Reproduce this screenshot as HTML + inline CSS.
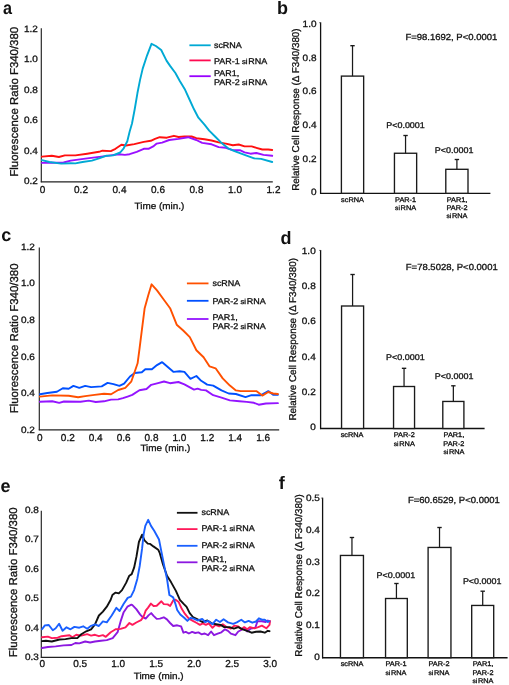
<!DOCTYPE html>
<html><head><meta charset="utf-8"><style>
html,body{margin:0;padding:0;background:#fff;width:509px;height:685px;overflow:hidden}
svg{display:block;font-family:"Liberation Sans", sans-serif;will-change:transform;text-rendering:geometricPrecision}
</style></head><body>
<svg width="509" height="685" viewBox="0 0 509 685">
<rect width="509" height="685" fill="#fff"/>
<text transform="translate(2.90,14.00) scale(0.9,1)" font-size="18" text-anchor="start" font-weight="bold" fill="#111"  >a</text>
<text transform="translate(277.00,14.00) scale(1.0,1)" font-size="18" text-anchor="start" font-weight="bold" fill="#111"  >b</text>
<text transform="translate(1.20,241.30) scale(1.0,1)" font-size="18" text-anchor="start" font-weight="bold" fill="#111"  >c</text>
<text transform="translate(280.40,244.40) scale(1.0,1)" font-size="18" text-anchor="start" font-weight="bold" fill="#111"  >d</text>
<text transform="translate(0.60,492.00) scale(1.0,1)" font-size="18" text-anchor="start" font-weight="bold" fill="#111"  >e</text>
<text transform="translate(278.80,488.60) scale(1.0,1)" font-size="18" text-anchor="start" font-weight="bold" fill="#111"  >f</text>
<line x1="41.30" y1="28.30" x2="41.30" y2="182.30" stroke="#222" stroke-width="1.15"/>
<line x1="40.80" y1="181.80" x2="272.80" y2="181.80" stroke="#222" stroke-width="1.35"/>
<text transform="translate(37.90,31.80) scale(1.08,1)" font-size="9.25" text-anchor="end" font-weight="normal" fill="#111" stroke="#111" stroke-width="0.3" >1.2</text>
<text transform="translate(37.90,62.26) scale(1.08,1)" font-size="9.25" text-anchor="end" font-weight="normal" fill="#111" stroke="#111" stroke-width="0.3" >1.0</text>
<text transform="translate(37.90,92.72) scale(1.08,1)" font-size="9.25" text-anchor="end" font-weight="normal" fill="#111" stroke="#111" stroke-width="0.3" >0.8</text>
<text transform="translate(37.90,123.18) scale(1.08,1)" font-size="9.25" text-anchor="end" font-weight="normal" fill="#111" stroke="#111" stroke-width="0.3" >0.6</text>
<text transform="translate(37.90,153.64) scale(1.08,1)" font-size="9.25" text-anchor="end" font-weight="normal" fill="#111" stroke="#111" stroke-width="0.3" >0.4</text>
<text transform="translate(37.90,184.10) scale(1.08,1)" font-size="9.25" text-anchor="end" font-weight="normal" fill="#111" stroke="#111" stroke-width="0.3" >0.2</text>
<text transform="translate(42.50,192.90) scale(1.0,1)" font-size="10" text-anchor="middle" font-weight="normal" fill="#111" stroke="#111" stroke-width="0.3" >0</text>
<text transform="translate(81.00,192.90) scale(1.0,1)" font-size="10" text-anchor="middle" font-weight="normal" fill="#111" stroke="#111" stroke-width="0.3" >0.2</text>
<text transform="translate(119.50,192.90) scale(1.0,1)" font-size="10" text-anchor="middle" font-weight="normal" fill="#111" stroke="#111" stroke-width="0.3" >0.4</text>
<text transform="translate(158.00,192.90) scale(1.0,1)" font-size="10" text-anchor="middle" font-weight="normal" fill="#111" stroke="#111" stroke-width="0.3" >0.6</text>
<text transform="translate(196.50,192.90) scale(1.0,1)" font-size="10" text-anchor="middle" font-weight="normal" fill="#111" stroke="#111" stroke-width="0.3" >0.8</text>
<text transform="translate(235.00,192.90) scale(1.0,1)" font-size="10" text-anchor="middle" font-weight="normal" fill="#111" stroke="#111" stroke-width="0.3" >1.0</text>
<text transform="translate(273.50,192.90) scale(1.0,1)" font-size="10" text-anchor="middle" font-weight="normal" fill="#111" stroke="#111" stroke-width="0.3" >1.2</text>
<text transform="translate(17.70,101.75) scale(1.0,1) rotate(-90)" font-size="11.43" text-anchor="middle" fill="#111" stroke="#111" stroke-width="0.3">Fluorescence Ratio F340/380</text>
<text transform="translate(159.40,208.80) scale(1.08,1)" font-size="9.2" text-anchor="middle" font-weight="normal" fill="#111" stroke="#111" stroke-width="0.3" >Time (min.)</text>
<polyline points="41.9,156.6 51.8,155.8 58.9,157.0 64.8,155.4 75.4,155.4 87.2,153.7 99.0,151.8 102.5,150.7 110.8,151.1 115.5,148.8 121.4,144.8 126.1,145.5 134.3,144.1 143.8,141.9 150.8,140.8 155.0,138.9 159.7,137.2 166.8,137.7 173.9,135.8 178.6,137.0 184.5,136.5 191.6,136.5 196.3,138.2 204.5,139.3 211.6,140.5 218.7,142.4 225.8,143.6 232.8,145.2 238.7,144.5 244.6,146.4 251.7,146.4 256.4,147.8 262.3,149.5 268.2,149.5 272.2,150.0" fill="none" stroke="#ff1010" stroke-width="1.9" stroke-linejoin="round" stroke-linecap="round"/>
<polyline points="41.9,162.9 51.8,162.7 63.6,162.5 70.7,160.6 87.2,158.4 101.3,156.6 110.8,155.4 119.0,154.2 124.9,154.9 129.6,154.2 136.7,151.8 143.8,148.8 148.5,148.8 153.2,146.4 156.7,143.6 162.1,142.6 169.2,140.0 178.6,138.9 188.0,137.2 196.3,140.0 202.2,142.9 211.6,144.3 218.7,147.1 225.8,147.8 232.8,150.2 239.9,150.2 244.6,152.3 250.5,153.7 256.4,153.0 263.5,154.9 272.2,155.8" fill="none" stroke="#9a10ff" stroke-width="1.9" stroke-linejoin="round" stroke-linecap="round"/>
<polyline points="41.9,160.1 49.4,162.0 61.2,163.6 70.7,163.2 75.4,163.4 82.5,162.0 91.9,160.6 99.0,158.4 106.0,155.8 113.1,155.4 120.2,152.5 123.7,148.3 127.3,141.2 129.6,131.8 132.0,123.5 134.7,109.3 137.4,93.3 140.0,80.1 142.7,68.6 147.1,55.3 151.5,43.8 155.9,46.0 161.2,50.0 166.5,60.6 170.1,65.9 175.4,73.0 179.8,81.0 185.1,89.8 189.5,99.5 194.0,109.3 198.4,117.7 204.5,124.7 209.2,130.6 215.1,136.5 221.0,142.4 228.1,148.3 235.2,151.4 244.6,154.9 254.1,158.4 261.1,158.9 272.2,162.0" fill="none" stroke="#00a9d4" stroke-width="1.9" stroke-linejoin="round" stroke-linecap="round"/>
<line x1="189.40" y1="45.30" x2="210.70" y2="45.30" stroke="#00a9d4" stroke-width="1.8"/>
<text transform="translate(213.90,48.00) scale(1.08,1)" font-size="8.3" text-anchor="start" font-weight="normal" fill="#111" stroke="#111" stroke-width="0.3" >scRNA</text>
<line x1="189.40" y1="60.40" x2="210.70" y2="60.40" stroke="#ff0a50" stroke-width="1.8"/>
<text transform="translate(213.90,63.80) scale(1.08,1)" font-size="8.3" text-anchor="start" font-weight="normal" fill="#111" stroke="#111" stroke-width="0.3" >PAR-1<tspan font-size="7.1" dx="2.1">si</tspan><tspan dx="0.7">RNA</tspan></text>
<line x1="189.40" y1="76.20" x2="210.70" y2="76.20" stroke="#9900ff" stroke-width="1.8"/>
<text transform="translate(213.90,76.20) scale(1.08,1)" font-size="8.3" text-anchor="start" font-weight="normal" fill="#111" stroke="#111" stroke-width="0.3" >PAR1,</text>
<text transform="translate(213.90,85.40) scale(1.08,1)" font-size="8.3" text-anchor="start" font-weight="normal" fill="#111" stroke="#111" stroke-width="0.3" >PAR-2<tspan font-size="7.1" dx="2.1">si</tspan><tspan dx="0.7">RNA</tspan></text>
<line x1="39.30" y1="247.60" x2="39.30" y2="430.30" stroke="#222" stroke-width="1.15"/>
<line x1="38.80" y1="429.80" x2="279.20" y2="429.80" stroke="#222" stroke-width="1.35"/>
<text transform="translate(34.90,249.80) scale(1.08,1)" font-size="9.25" text-anchor="end" font-weight="normal" fill="#111" stroke="#111" stroke-width="0.3" >1.2</text>
<text transform="translate(34.90,286.46) scale(1.08,1)" font-size="9.25" text-anchor="end" font-weight="normal" fill="#111" stroke="#111" stroke-width="0.3" >1.0</text>
<text transform="translate(34.90,323.12) scale(1.08,1)" font-size="9.25" text-anchor="end" font-weight="normal" fill="#111" stroke="#111" stroke-width="0.3" >0.8</text>
<text transform="translate(34.90,359.78) scale(1.08,1)" font-size="9.25" text-anchor="end" font-weight="normal" fill="#111" stroke="#111" stroke-width="0.3" >0.6</text>
<text transform="translate(34.90,396.44) scale(1.08,1)" font-size="9.25" text-anchor="end" font-weight="normal" fill="#111" stroke="#111" stroke-width="0.3" >0.4</text>
<text transform="translate(34.90,433.10) scale(1.08,1)" font-size="9.25" text-anchor="end" font-weight="normal" fill="#111" stroke="#111" stroke-width="0.3" >0.2</text>
<text transform="translate(39.90,440.60) scale(1.0,1)" font-size="10" text-anchor="middle" font-weight="normal" fill="#111" stroke="#111" stroke-width="0.3" >0</text>
<text transform="translate(67.80,440.60) scale(1.0,1)" font-size="10" text-anchor="middle" font-weight="normal" fill="#111" stroke="#111" stroke-width="0.3" >0.2</text>
<text transform="translate(95.70,440.60) scale(1.0,1)" font-size="10" text-anchor="middle" font-weight="normal" fill="#111" stroke="#111" stroke-width="0.3" >0.4</text>
<text transform="translate(123.60,440.60) scale(1.0,1)" font-size="10" text-anchor="middle" font-weight="normal" fill="#111" stroke="#111" stroke-width="0.3" >0.6</text>
<text transform="translate(151.50,440.60) scale(1.0,1)" font-size="10" text-anchor="middle" font-weight="normal" fill="#111" stroke="#111" stroke-width="0.3" >0.8</text>
<text transform="translate(179.40,440.60) scale(1.0,1)" font-size="10" text-anchor="middle" font-weight="normal" fill="#111" stroke="#111" stroke-width="0.3" >1.0</text>
<text transform="translate(207.30,440.60) scale(1.0,1)" font-size="10" text-anchor="middle" font-weight="normal" fill="#111" stroke="#111" stroke-width="0.3" >1.2</text>
<text transform="translate(235.20,440.60) scale(1.0,1)" font-size="10" text-anchor="middle" font-weight="normal" fill="#111" stroke="#111" stroke-width="0.3" >1.4</text>
<text transform="translate(263.10,440.60) scale(1.0,1)" font-size="10" text-anchor="middle" font-weight="normal" fill="#111" stroke="#111" stroke-width="0.3" >1.6</text>
<text transform="translate(17.70,338.40) scale(1.0,1) rotate(-90)" font-size="11.43" text-anchor="middle" fill="#111" stroke="#111" stroke-width="0.3">Fluorescence Ratio F340/380</text>
<text transform="translate(165.30,450.70) scale(1.08,1)" font-size="9.2" text-anchor="middle" font-weight="normal" fill="#111" stroke="#111" stroke-width="0.3" >Time (min.)</text>
<polyline points="39.9,401.7 52.2,401.3 59.2,402.9 63.9,401.5 80.5,401.7 88.7,400.6 95.8,402.0 104.0,401.3 111.1,399.6 118.2,399.4 122.9,398.2 127.6,396.6 132.3,394.9 139.4,390.2 146.5,389.0 151.2,384.8 158.0,383.1 164.0,381.5 170.0,383.2 178.4,382.0 184.4,384.4 194.0,389.6 197.6,388.7 201.2,389.9 206.0,390.4 213.2,395.2 221.5,397.6 229.9,400.4 239.5,401.2 246.7,401.9 253.9,402.8 258.7,404.7 265.9,403.5 277.9,403.1" fill="none" stroke="#9414ff" stroke-width="1.9" stroke-linejoin="round" stroke-linecap="round"/>
<polyline points="39.9,394.2 47.4,393.0 56.9,391.8 62.8,388.3 68.7,388.8 73.4,385.9 79.3,387.8 85.2,385.9 91.1,387.1 101.7,386.4 107.6,382.9 113.5,384.1 119.4,385.9 124.1,383.6 130.0,376.5 134.7,373.0 141.8,372.3 145.3,369.2 151.9,369.2 157.0,365.1 162.1,362.2 162.8,362.8 173.6,371.9 179.6,371.2 184.4,371.9 190.4,378.8 196.4,376.0 201.2,380.8 207.2,384.6 213.2,385.6 221.5,390.4 228.7,393.5 235.9,394.0 245.5,397.1 251.5,395.2 261.1,395.2 268.3,391.1 273.1,394.7 277.9,394.7" fill="none" stroke="#0050ff" stroke-width="1.9" stroke-linejoin="round" stroke-linecap="round"/>
<polyline points="39.9,396.6 52.2,395.4 68.7,395.8 78.1,397.3 85.2,396.1 94.6,394.9 104.0,393.7 111.1,394.2 118.2,390.0 125.3,387.8 131.2,381.7 134.7,371.8 137.6,363.3 139.5,348.8 141.7,331.3 144.6,308.6 148.2,295.5 151.6,284.3 157.0,290.4 163.5,299.2 170.1,308.2 176.7,324.7 183.2,330.5 189.8,337.1 196.4,350.2 203.6,357.3 209.6,366.4 215.6,368.3 222.7,378.4 229.9,385.6 235.9,390.4 240.7,391.1 256.3,391.1 262.3,395.6 268.3,392.0 273.1,393.5 277.9,394.0" fill="none" stroke="#ff5000" stroke-width="1.9" stroke-linejoin="round" stroke-linecap="round"/>
<line x1="186.90" y1="283.40" x2="208.50" y2="283.40" stroke="#ff5000" stroke-width="1.8"/>
<text transform="translate(212.40,285.70) scale(1.08,1)" font-size="8.3" text-anchor="start" font-weight="normal" fill="#111" stroke="#111" stroke-width="0.3" >scRNA</text>
<line x1="186.90" y1="300.80" x2="208.50" y2="300.80" stroke="#0050ff" stroke-width="1.8"/>
<text transform="translate(212.40,304.40) scale(1.08,1)" font-size="8.3" text-anchor="start" font-weight="normal" fill="#111" stroke="#111" stroke-width="0.3" >PAR-2<tspan font-size="7.1" dx="2.1">si</tspan><tspan dx="0.7">RNA</tspan></text>
<line x1="186.90" y1="319.00" x2="208.50" y2="319.00" stroke="#9414ff" stroke-width="1.8"/>
<text transform="translate(212.40,320.10) scale(1.08,1)" font-size="8.3" text-anchor="start" font-weight="normal" fill="#111" stroke="#111" stroke-width="0.3" >PAR1,</text>
<text transform="translate(212.40,329.00) scale(1.08,1)" font-size="8.3" text-anchor="start" font-weight="normal" fill="#111" stroke="#111" stroke-width="0.3" >PAR-2<tspan font-size="7.1" dx="2.1">si</tspan><tspan dx="0.7">RNA</tspan></text>
<line x1="41.30" y1="510.80" x2="41.30" y2="657.80" stroke="#222" stroke-width="1.15"/>
<line x1="40.80" y1="657.30" x2="270.60" y2="657.30" stroke="#222" stroke-width="1.35"/>
<text transform="translate(38.90,513.05) scale(1.08,1)" font-size="9.25" text-anchor="end" font-weight="normal" fill="#111" stroke="#111" stroke-width="0.3" >0.8</text>
<text transform="translate(38.90,542.49) scale(1.08,1)" font-size="9.25" text-anchor="end" font-weight="normal" fill="#111" stroke="#111" stroke-width="0.3" >0.7</text>
<text transform="translate(38.90,571.93) scale(1.08,1)" font-size="9.25" text-anchor="end" font-weight="normal" fill="#111" stroke="#111" stroke-width="0.3" >0.6</text>
<text transform="translate(38.90,601.37) scale(1.08,1)" font-size="9.25" text-anchor="end" font-weight="normal" fill="#111" stroke="#111" stroke-width="0.3" >0.5</text>
<text transform="translate(38.90,630.81) scale(1.08,1)" font-size="9.25" text-anchor="end" font-weight="normal" fill="#111" stroke="#111" stroke-width="0.3" >0.4</text>
<text transform="translate(38.90,660.25) scale(1.08,1)" font-size="9.25" text-anchor="end" font-weight="normal" fill="#111" stroke="#111" stroke-width="0.3" >0.3</text>
<text transform="translate(42.20,667.40) scale(1.0,1)" font-size="10" text-anchor="middle" font-weight="normal" fill="#111" stroke="#111" stroke-width="0.3" >0</text>
<text transform="translate(80.20,667.40) scale(1.0,1)" font-size="10" text-anchor="middle" font-weight="normal" fill="#111" stroke="#111" stroke-width="0.3" >0.5</text>
<text transform="translate(118.20,667.40) scale(1.0,1)" font-size="10" text-anchor="middle" font-weight="normal" fill="#111" stroke="#111" stroke-width="0.3" >1.0</text>
<text transform="translate(156.20,667.40) scale(1.0,1)" font-size="10" text-anchor="middle" font-weight="normal" fill="#111" stroke="#111" stroke-width="0.3" >1.5</text>
<text transform="translate(194.20,667.40) scale(1.0,1)" font-size="10" text-anchor="middle" font-weight="normal" fill="#111" stroke="#111" stroke-width="0.3" >2.0</text>
<text transform="translate(232.20,667.40) scale(1.0,1)" font-size="10" text-anchor="middle" font-weight="normal" fill="#111" stroke="#111" stroke-width="0.3" >2.5</text>
<text transform="translate(270.20,667.40) scale(1.0,1)" font-size="10" text-anchor="middle" font-weight="normal" fill="#111" stroke="#111" stroke-width="0.3" >3.0</text>
<text transform="translate(17.30,582.25) scale(1.0,1) rotate(-90)" font-size="11.43" text-anchor="middle" fill="#111" stroke="#111" stroke-width="0.3">Fluorescence Ratio F340/380</text>
<text transform="translate(158.60,678.70) scale(1.08,1)" font-size="9.2" text-anchor="middle" font-weight="normal" fill="#111" stroke="#111" stroke-width="0.3" >Time (min.)</text>
<polyline points="42.0,648.0 47.9,647.0 55.7,646.4 63.6,645.4 71.4,645.0 75.4,643.0 79.3,643.4 85.2,641.5 90.1,642.5 95.0,641.5 100.9,640.7 106.8,640.1 112.7,638.1 117.6,632.2 120.6,621.4 123.5,612.6 127.4,606.7 131.4,604.7 132.4,605.2 136.3,609.1 140.2,614.6 142.6,617.0 145.7,618.6 148.5,615.4 151.2,613.1 153.6,615.9 156.7,618.9 159.9,618.6 163.8,617.3 166.9,619.4 170.1,623.0 173.2,626.0 177.2,625.3 181.1,626.4 183.4,632.7 185.8,631.9 188.9,633.5 192.1,631.9 195.2,633.0 198.4,632.4 201.5,634.3 204.7,633.5 208.1,635.2 211.1,631.5 214.0,635.2 217.7,633.7 221.4,632.3 225.0,629.3 228.0,630.8 230.9,633.7 235.4,635.2 238.3,631.5 241.3,630.0 244.2,627.8 247.1,631.5 250.8,628.6 255.3,627.8 257.5,621.2 261.9,621.2 265.6,622.0 267.8,620.5 269.5,622.0" fill="none" stroke="#8c18e0" stroke-width="1.9" stroke-linejoin="round" stroke-linecap="round"/>
<polyline points="42.0,637.2 47.9,636.6 51.8,638.1 57.7,637.7 61.6,636.2 69.5,635.2 72.4,637.2 76.3,634.8 81.3,635.6 87.2,634.2 91.1,635.6 95.0,634.8 98.9,636.2 102.9,635.2 105.8,636.8 110.7,632.2 115.6,629.3 120.6,628.9 125.5,627.3 129.4,623.0 132.4,624.9 136.3,622.5 141.0,620.1 143.4,617.0 145.7,610.7 148.1,607.6 150.9,603.6 153.6,606.0 156.7,605.7 161.4,601.3 163.8,604.1 167.7,604.4 170.1,606.0 173.2,600.5 175.6,599.7 178.7,602.1 181.9,609.1 185.0,613.9 188.9,618.6 192.9,620.9 196.8,623.0 199.9,624.9 202.9,623.4 205.9,624.9 208.8,623.4 212.5,627.8 215.5,624.9 219.2,626.4 222.8,624.2 226.5,627.1 230.9,628.6 234.6,625.6 238.3,626.4 241.3,629.3 244.2,627.1 247.1,629.3 250.1,627.1 254.5,628.3 258.2,627.1 261.9,625.6 266.3,628.3 269.5,624.9 270.0,621.0" fill="none" stroke="#ff1a5a" stroke-width="1.9" stroke-linejoin="round" stroke-linecap="round"/>
<polyline points="42.0,641.1 45.9,640.7 51.8,641.5 59.6,639.5 65.5,639.1 71.4,638.1 77.3,638.1 81.3,634.2 86.2,631.3 91.1,629.3 95.0,624.4 98.9,615.5 102.9,611.6 106.8,606.7 110.7,599.8 112.4,595.0 115.6,592.6 118.8,593.4 122.0,590.1 126.1,582.9 129.3,575.7 131.7,574.1 134.1,567.7 136.5,556.4 138.9,542.0 142.1,534.7 144.5,540.3 147.8,543.6 150.2,543.9 153.4,546.4 158.2,549.7 159.8,553.2 163.0,564.4 167.0,575.7 171.0,582.1 175.9,590.9 179.9,599.8 183.4,603.6 186.6,606.8 189.7,613.1 192.9,617.0 197.6,619.4 202.3,622.0 207.4,620.5 211.8,623.4 216.2,624.2 220.6,624.9 224.3,627.1 229.5,627.1 233.9,628.6 238.3,627.1 242.7,629.3 247.1,630.8 251.6,632.7 256.0,631.8 260.4,631.5 264.8,632.7 267.8,630.8 269.5,631.2" fill="none" stroke="#111111" stroke-width="1.9" stroke-linejoin="round" stroke-linecap="round"/>
<polyline points="42.0,629.3 44.9,625.4 48.8,625.0 52.8,630.3 55.7,628.3 59.1,623.8 62.6,630.7 66.5,627.3 70.5,629.3 74.4,626.9 79.3,627.7 83.2,626.3 87.2,628.7 91.1,625.8 95.0,624.4 98.9,626.0 102.9,621.4 106.8,622.4 111.7,615.5 116.4,607.8 119.6,611.0 123.7,603.8 127.7,597.9 130.9,596.6 134.1,590.1 137.3,578.9 139.7,566.0 142.1,548.4 143.7,533.9 145.3,525.9 148.2,519.8 151.0,525.9 154.2,530.7 159.0,539.5 161.4,551.6 164.6,567.7 167.0,578.9 169.4,595.0 173.2,597.4 175.6,604.4 177.2,609.9 180.3,614.6 184.2,617.8 187.4,620.9 190.5,617.8 193.7,618.6 197.6,620.5 200.0,619.7 202.2,619.0 205.2,622.0 208.1,620.9 212.5,624.2 216.2,619.7 219.9,622.0 223.6,619.3 228.0,622.4 233.2,623.9 236.8,622.4 241.3,619.7 244.9,622.4 248.6,620.9 252.3,622.7 256.0,621.5 258.9,618.3 261.9,619.7 264.8,619.7 267.8,622.0 269.5,621.2" fill="none" stroke="#1a60ff" stroke-width="1.9" stroke-linejoin="round" stroke-linecap="round"/>
<line x1="176.90" y1="512.80" x2="197.50" y2="512.80" stroke="#111111" stroke-width="1.8"/>
<text transform="translate(201.40,514.70) scale(1.08,1)" font-size="8.3" text-anchor="start" font-weight="normal" fill="#111" stroke="#111" stroke-width="0.3" >scRNA</text>
<line x1="176.90" y1="529.10" x2="197.50" y2="529.10" stroke="#ff1a5a" stroke-width="1.8"/>
<text transform="translate(201.40,531.20) scale(1.08,1)" font-size="8.3" text-anchor="start" font-weight="normal" fill="#111" stroke="#111" stroke-width="0.3" >PAR-1<tspan font-size="7.1" dx="2.1">si</tspan><tspan dx="0.7">RNA</tspan></text>
<line x1="176.90" y1="545.80" x2="197.50" y2="545.80" stroke="#1a60ff" stroke-width="1.8"/>
<text transform="translate(201.40,547.80) scale(1.08,1)" font-size="8.3" text-anchor="start" font-weight="normal" fill="#111" stroke="#111" stroke-width="0.3" >PAR-2<tspan font-size="7.1" dx="2.1">si</tspan><tspan dx="0.7">RNA</tspan></text>
<line x1="176.90" y1="562.30" x2="197.50" y2="562.30" stroke="#8c18e0" stroke-width="1.8"/>
<text transform="translate(201.40,561.50) scale(1.08,1)" font-size="8.3" text-anchor="start" font-weight="normal" fill="#111" stroke="#111" stroke-width="0.3" >PAR1,</text>
<text transform="translate(201.40,570.70) scale(1.08,1)" font-size="8.3" text-anchor="start" font-weight="normal" fill="#111" stroke="#111" stroke-width="0.3" >PAR-2<tspan font-size="7.1" dx="2.1">si</tspan><tspan dx="0.7">RNA</tspan></text>
<line x1="320.60" y1="22.30" x2="320.60" y2="193.90" stroke="#111" stroke-width="1.3"/>
<line x1="319.20" y1="22.70" x2="320.60" y2="22.70" stroke="#555" stroke-width="0.9"/>
<line x1="320.00" y1="193.30" x2="490.40" y2="193.30" stroke="#111" stroke-width="1.35"/>
<text transform="translate(316.50,27.10) scale(1.08,1)" font-size="9.25" text-anchor="end" font-weight="normal" fill="#111" stroke="#111" stroke-width="0.3" >1.0</text>
<text transform="translate(316.50,60.74) scale(1.08,1)" font-size="9.25" text-anchor="end" font-weight="normal" fill="#111" stroke="#111" stroke-width="0.3" >0.8</text>
<text transform="translate(316.50,94.38) scale(1.08,1)" font-size="9.25" text-anchor="end" font-weight="normal" fill="#111" stroke="#111" stroke-width="0.3" >0.6</text>
<text transform="translate(316.50,128.02) scale(1.08,1)" font-size="9.25" text-anchor="end" font-weight="normal" fill="#111" stroke="#111" stroke-width="0.3" >0.4</text>
<text transform="translate(316.50,161.66) scale(1.08,1)" font-size="9.25" text-anchor="end" font-weight="normal" fill="#111" stroke="#111" stroke-width="0.3" >0.2</text>
<text transform="translate(316.50,195.30) scale(1.08,1)" font-size="9.25" text-anchor="end" font-weight="normal" fill="#111" stroke="#111" stroke-width="0.3" >0</text>
<text transform="translate(298.60,109.60) scale(1.0,1) rotate(-90)" font-size="9.9" text-anchor="middle" fill="#111" stroke="#111" stroke-width="0.3">Relative Cell Response (Δ F340/380)</text>
<rect x="341.40" y="76.10" width="22.25" height="117.20" fill="#fff" stroke="#1a1a1a" stroke-width="1.35"/>
<line x1="352.52" y1="76.10" x2="352.52" y2="45.70" stroke="#1a1a1a" stroke-width="1.25"/>
<line x1="350.32" y1="45.70" x2="354.72" y2="45.70" stroke="#1a1a1a" stroke-width="1.35"/>
<rect x="394.45" y="153.25" width="22.20" height="40.05" fill="#fff" stroke="#1a1a1a" stroke-width="1.35"/>
<line x1="405.55" y1="153.25" x2="405.55" y2="135.50" stroke="#1a1a1a" stroke-width="1.25"/>
<line x1="403.35" y1="135.50" x2="407.75" y2="135.50" stroke="#1a1a1a" stroke-width="1.35"/>
<rect x="445.80" y="169.30" width="22.20" height="24.00" fill="#fff" stroke="#1a1a1a" stroke-width="1.35"/>
<line x1="456.90" y1="169.30" x2="456.90" y2="159.50" stroke="#1a1a1a" stroke-width="1.25"/>
<line x1="454.70" y1="159.50" x2="459.10" y2="159.50" stroke="#1a1a1a" stroke-width="1.35"/>
<text transform="translate(405.50,128.20) scale(1.08,1)" font-size="8.3" text-anchor="middle" font-weight="normal" fill="#111" stroke="#111" stroke-width="0.3" >P&lt;0.0001</text>
<text transform="translate(454.10,153.10) scale(1.08,1)" font-size="8.3" text-anchor="middle" font-weight="normal" fill="#111" stroke="#111" stroke-width="0.3" >P&lt;0.0001</text>
<text transform="translate(405.40,40.30) scale(1.08,1)" font-size="8.8" text-anchor="start" font-weight="normal" fill="#111" stroke="#111" stroke-width="0.3" >F=98.1692, P&lt;0.0001</text>
<text transform="translate(352.50,201.90) scale(1.08,1)" font-size="6.8" text-anchor="middle" font-weight="normal" fill="#111" stroke="#111" stroke-width="0.3" >scRNA</text>
<text transform="translate(405.60,201.90) scale(1.08,1)" font-size="6.8" text-anchor="middle" font-weight="normal" fill="#111" stroke="#111" stroke-width="0.3" >PAR-1</text>
<text transform="translate(405.60,210.00) scale(1.08,1)" font-size="6.8" text-anchor="middle" font-weight="normal" fill="#111" stroke="#111" stroke-width="0.3" ><tspan font-size="6.1">si</tspan><tspan dx="0.7">RNA</tspan></text>
<text transform="translate(457.00,201.90) scale(1.08,1)" font-size="6.8" text-anchor="middle" font-weight="normal" fill="#111" stroke="#111" stroke-width="0.3" >PAR1,</text>
<text transform="translate(457.00,210.00) scale(1.08,1)" font-size="6.8" text-anchor="middle" font-weight="normal" fill="#111" stroke="#111" stroke-width="0.3" >PAR-2</text>
<text transform="translate(457.00,218.10) scale(1.08,1)" font-size="6.8" text-anchor="middle" font-weight="normal" fill="#111" stroke="#111" stroke-width="0.3" ><tspan font-size="6.1">si</tspan><tspan dx="0.7">RNA</tspan></text>
<line x1="320.60" y1="250.00" x2="320.60" y2="429.10" stroke="#111" stroke-width="1.3"/>
<line x1="319.20" y1="250.40" x2="320.60" y2="250.40" stroke="#555" stroke-width="0.9"/>
<line x1="320.00" y1="428.50" x2="484.60" y2="428.50" stroke="#111" stroke-width="1.35"/>
<text transform="translate(315.70,253.55) scale(1.08,1)" font-size="9.25" text-anchor="end" font-weight="normal" fill="#111" stroke="#111" stroke-width="0.3" >1.0</text>
<text transform="translate(315.70,288.90) scale(1.08,1)" font-size="9.25" text-anchor="end" font-weight="normal" fill="#111" stroke="#111" stroke-width="0.3" >0.8</text>
<text transform="translate(315.70,324.25) scale(1.08,1)" font-size="9.25" text-anchor="end" font-weight="normal" fill="#111" stroke="#111" stroke-width="0.3" >0.6</text>
<text transform="translate(315.70,359.60) scale(1.08,1)" font-size="9.25" text-anchor="end" font-weight="normal" fill="#111" stroke="#111" stroke-width="0.3" >0.4</text>
<text transform="translate(315.70,394.95) scale(1.08,1)" font-size="9.25" text-anchor="end" font-weight="normal" fill="#111" stroke="#111" stroke-width="0.3" >0.2</text>
<text transform="translate(315.70,430.30) scale(1.08,1)" font-size="9.25" text-anchor="end" font-weight="normal" fill="#111" stroke="#111" stroke-width="0.3" >0</text>
<text transform="translate(296.20,339.30) scale(1.0,1) rotate(-90)" font-size="9.9" text-anchor="middle" fill="#111" stroke="#111" stroke-width="0.3">Relative Cell Response (Δ F340/380)</text>
<rect x="341.55" y="306.00" width="22.05" height="122.50" fill="#fff" stroke="#1a1a1a" stroke-width="1.35"/>
<line x1="352.58" y1="306.00" x2="352.58" y2="274.50" stroke="#1a1a1a" stroke-width="1.25"/>
<line x1="350.38" y1="274.50" x2="354.78" y2="274.50" stroke="#1a1a1a" stroke-width="1.35"/>
<rect x="393.55" y="386.50" width="21.00" height="42.00" fill="#fff" stroke="#1a1a1a" stroke-width="1.35"/>
<line x1="404.05" y1="386.50" x2="404.05" y2="368.30" stroke="#1a1a1a" stroke-width="1.25"/>
<line x1="401.85" y1="368.30" x2="406.25" y2="368.30" stroke="#1a1a1a" stroke-width="1.35"/>
<rect x="442.80" y="401.45" width="21.10" height="27.05" fill="#fff" stroke="#1a1a1a" stroke-width="1.35"/>
<line x1="453.35" y1="401.45" x2="453.35" y2="385.80" stroke="#1a1a1a" stroke-width="1.25"/>
<line x1="451.15" y1="385.80" x2="455.55" y2="385.80" stroke="#1a1a1a" stroke-width="1.35"/>
<text transform="translate(405.30,360.30) scale(1.08,1)" font-size="8.3" text-anchor="middle" font-weight="normal" fill="#111" stroke="#111" stroke-width="0.3" >P&lt;0.0001</text>
<text transform="translate(454.10,379.40) scale(1.08,1)" font-size="8.3" text-anchor="middle" font-weight="normal" fill="#111" stroke="#111" stroke-width="0.3" >P&lt;0.0001</text>
<text transform="translate(405.80,270.30) scale(1.08,1)" font-size="8.8" text-anchor="start" font-weight="normal" fill="#111" stroke="#111" stroke-width="0.3" >F=78.5028, P&lt;0.0001</text>
<text transform="translate(352.10,437.40) scale(1.08,1)" font-size="6.8" text-anchor="middle" font-weight="normal" fill="#111" stroke="#111" stroke-width="0.3" >scRNA</text>
<text transform="translate(404.30,437.40) scale(1.08,1)" font-size="6.8" text-anchor="middle" font-weight="normal" fill="#111" stroke="#111" stroke-width="0.3" >PAR-2</text>
<text transform="translate(404.30,445.50) scale(1.08,1)" font-size="6.8" text-anchor="middle" font-weight="normal" fill="#111" stroke="#111" stroke-width="0.3" ><tspan font-size="6.1">si</tspan><tspan dx="0.7">RNA</tspan></text>
<text transform="translate(453.90,437.40) scale(1.08,1)" font-size="6.8" text-anchor="middle" font-weight="normal" fill="#111" stroke="#111" stroke-width="0.3" >PAR1,</text>
<text transform="translate(453.90,445.50) scale(1.08,1)" font-size="6.8" text-anchor="middle" font-weight="normal" fill="#111" stroke="#111" stroke-width="0.3" >PAR-2</text>
<text transform="translate(453.90,453.60) scale(1.08,1)" font-size="6.8" text-anchor="middle" font-weight="normal" fill="#111" stroke="#111" stroke-width="0.3" ><tspan font-size="6.1">si</tspan><tspan dx="0.7">RNA</tspan></text>
<line x1="322.60" y1="497.70" x2="322.60" y2="658.30" stroke="#111" stroke-width="1.3"/>
<line x1="321.20" y1="498.10" x2="322.60" y2="498.10" stroke="#555" stroke-width="0.9"/>
<line x1="322.00" y1="657.70" x2="507.60" y2="657.70" stroke="#111" stroke-width="1.35"/>
<text transform="translate(319.80,501.10) scale(1.08,1)" font-size="9.25" text-anchor="end" font-weight="normal" fill="#111" stroke="#111" stroke-width="0.3" >0.5</text>
<text transform="translate(319.80,532.86) scale(1.08,1)" font-size="9.25" text-anchor="end" font-weight="normal" fill="#111" stroke="#111" stroke-width="0.3" >0.4</text>
<text transform="translate(319.80,564.62) scale(1.08,1)" font-size="9.25" text-anchor="end" font-weight="normal" fill="#111" stroke="#111" stroke-width="0.3" >0.3</text>
<text transform="translate(319.80,596.38) scale(1.08,1)" font-size="9.25" text-anchor="end" font-weight="normal" fill="#111" stroke="#111" stroke-width="0.3" >0.2</text>
<text transform="translate(319.80,628.14) scale(1.08,1)" font-size="9.25" text-anchor="end" font-weight="normal" fill="#111" stroke="#111" stroke-width="0.3" >0.1</text>
<text transform="translate(319.80,659.90) scale(1.08,1)" font-size="9.25" text-anchor="end" font-weight="normal" fill="#111" stroke="#111" stroke-width="0.3" >0</text>
<text transform="translate(301.60,575.40) scale(1.0,1) rotate(-90)" font-size="9.9" text-anchor="middle" fill="#111" stroke="#111" stroke-width="0.3">Relative Cell Response (Δ F340/380)</text>
<rect x="340.45" y="555.45" width="23.00" height="102.25" fill="#fff" stroke="#1a1a1a" stroke-width="1.35"/>
<line x1="351.95" y1="555.45" x2="351.95" y2="537.50" stroke="#1a1a1a" stroke-width="1.25"/>
<line x1="349.75" y1="537.50" x2="354.15" y2="537.50" stroke="#1a1a1a" stroke-width="1.35"/>
<rect x="385.55" y="598.50" width="21.75" height="59.20" fill="#fff" stroke="#1a1a1a" stroke-width="1.35"/>
<line x1="396.43" y1="598.50" x2="396.43" y2="583.50" stroke="#1a1a1a" stroke-width="1.25"/>
<line x1="394.23" y1="583.50" x2="398.62" y2="583.50" stroke="#1a1a1a" stroke-width="1.35"/>
<rect x="428.10" y="547.45" width="22.85" height="110.25" fill="#fff" stroke="#1a1a1a" stroke-width="1.35"/>
<line x1="439.52" y1="547.45" x2="439.52" y2="527.50" stroke="#1a1a1a" stroke-width="1.25"/>
<line x1="437.32" y1="527.50" x2="441.72" y2="527.50" stroke="#1a1a1a" stroke-width="1.35"/>
<rect x="471.70" y="605.45" width="22.00" height="52.25" fill="#fff" stroke="#1a1a1a" stroke-width="1.35"/>
<line x1="482.70" y1="605.45" x2="482.70" y2="591.20" stroke="#1a1a1a" stroke-width="1.25"/>
<line x1="480.50" y1="591.20" x2="484.90" y2="591.20" stroke="#1a1a1a" stroke-width="1.35"/>
<text transform="translate(395.90,577.60) scale(1.08,1)" font-size="8.3" text-anchor="middle" font-weight="normal" fill="#111" stroke="#111" stroke-width="0.3" >P&lt;0.0001</text>
<text transform="translate(482.20,584.10) scale(1.08,1)" font-size="8.3" text-anchor="middle" font-weight="normal" fill="#111" stroke="#111" stroke-width="0.3" >P&lt;0.0001</text>
<text transform="translate(407.90,503.10) scale(1.08,1)" font-size="8.8" text-anchor="start" font-weight="normal" fill="#111" stroke="#111" stroke-width="0.3" >F=60.6529, P&lt;0.0001</text>
<text transform="translate(352.10,666.40) scale(1.08,1)" font-size="6.8" text-anchor="middle" font-weight="normal" fill="#111" stroke="#111" stroke-width="0.3" >scRNA</text>
<text transform="translate(396.00,666.40) scale(1.08,1)" font-size="6.8" text-anchor="middle" font-weight="normal" fill="#111" stroke="#111" stroke-width="0.3" >PAR-1</text>
<text transform="translate(396.00,674.50) scale(1.08,1)" font-size="6.8" text-anchor="middle" font-weight="normal" fill="#111" stroke="#111" stroke-width="0.3" ><tspan font-size="6.1">si</tspan><tspan dx="0.7">RNA</tspan></text>
<text transform="translate(439.00,666.40) scale(1.08,1)" font-size="6.8" text-anchor="middle" font-weight="normal" fill="#111" stroke="#111" stroke-width="0.3" >PAR-2</text>
<text transform="translate(439.00,674.50) scale(1.08,1)" font-size="6.8" text-anchor="middle" font-weight="normal" fill="#111" stroke="#111" stroke-width="0.3" ><tspan font-size="6.1">si</tspan><tspan dx="0.7">RNA</tspan></text>
<text transform="translate(483.00,666.40) scale(1.08,1)" font-size="6.8" text-anchor="middle" font-weight="normal" fill="#111" stroke="#111" stroke-width="0.3" >PAR1,</text>
<text transform="translate(483.00,674.50) scale(1.08,1)" font-size="6.8" text-anchor="middle" font-weight="normal" fill="#111" stroke="#111" stroke-width="0.3" >PAR-2</text>
<text transform="translate(483.00,682.60) scale(1.08,1)" font-size="6.8" text-anchor="middle" font-weight="normal" fill="#111" stroke="#111" stroke-width="0.3" ><tspan font-size="6.1">si</tspan><tspan dx="0.7">RNA</tspan></text>
</svg></body></html>
